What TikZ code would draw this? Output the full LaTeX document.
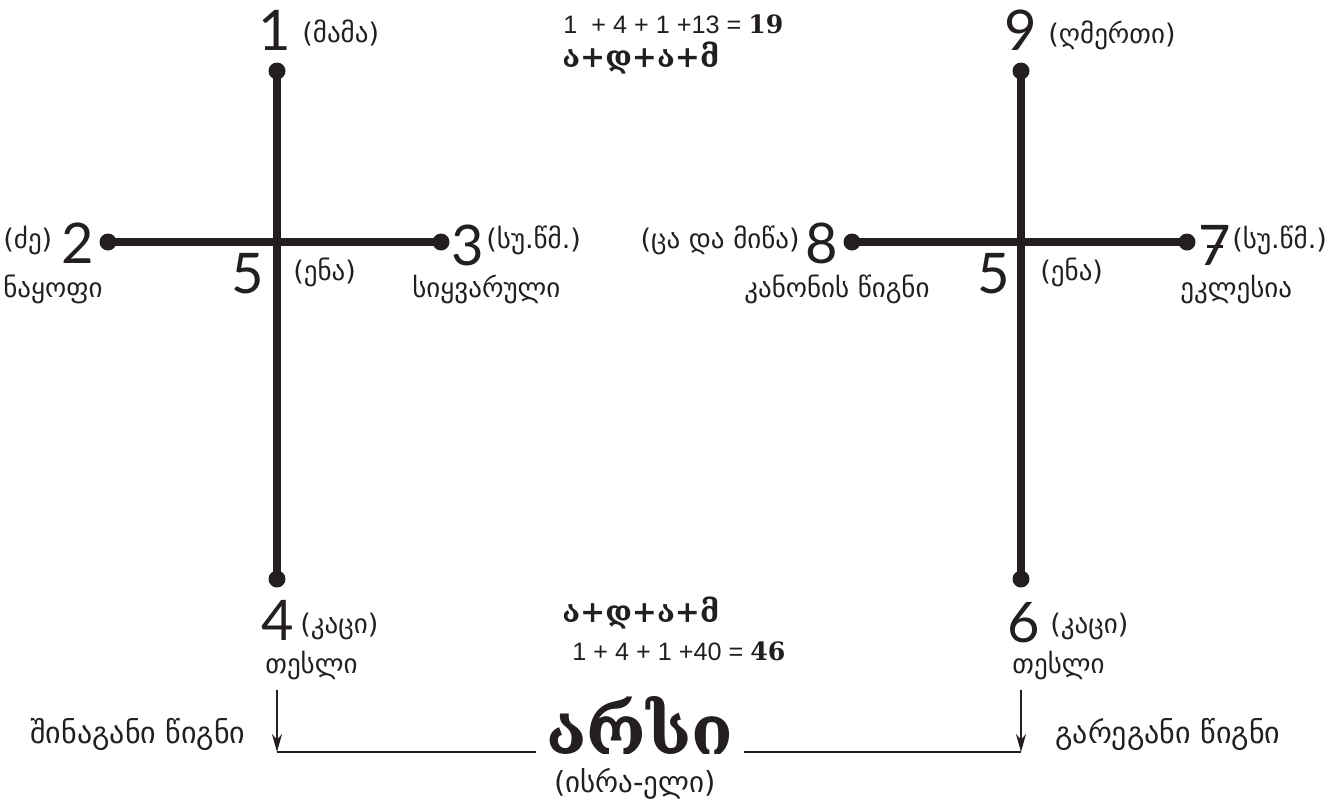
\documentclass[tikz,border=0pt]{standalone}
\usepackage{fontspec}
\setmainfont{DejaVu Sans}
\newfontfamily\numfont{Liberation Sans}
\newfontfamily\digfont{Lato}
\newfontfamily\geobold{DejaVu Serif}
\definecolor{ink}{RGB}{35,31,32}
\usetikzlibrary{arrows.meta,positioning}
\newcommand{\crossseven}{\ooalign{7\cr\hidewidth\rule[0.3em]{0.3em}{0.05em}\hidewidth\cr}}

\begin{document}
\begin{tikzpicture}[x=0.5pt,y=-0.5pt,ink,
  dot/.style={circle,fill=ink,inner sep=0pt,minimum size=8.5pt},
  bar/.style={line width=3.6pt,ink},
  big/.style={font=\digfont\fontsize{28}{28}\selectfont,inner sep=0pt,anchor=base},
  geo/.style={font=\fontsize{13.5}{16}\selectfont,inner sep=0pt,anchor=base west},
  sumline/.style={font=\numfont\fontsize{12.6}{15}\selectfont,inner sep=0pt,anchor=base west},
  adam/.style={font=\geobold\bfseries\fontsize{15}{18}\selectfont,inner sep=0pt,anchor=base west}]
  \useasboundingbox (0,0) rectangle (1332,805);
  % left cross
  \node[dot] (dot1) at (277,71) {};
  \node[dot] (dot4) at (277,579) {};
  \node[dot] (dot2) at (108,242) {};
  \node[dot] (dot3) at (441,242) {};
  \draw[bar] (dot1.center) -- (dot4.center);
  \draw[bar] (dot2.center) -- (dot3.center);
  % right cross
  \node[dot] (dot9) at (1021,71) {};
  \node[dot] (dot6) at (1021,579) {};
  \node[dot] (dot8) at (852,242) {};
  \node[dot] (dot7) at (1187,242) {};
  \draw[bar] (dot9.center) -- (dot6.center);
  \draw[bar] (dot8.center) -- (dot7.center);
  % numbers and names, left
  \node[big] (num1) at (274.5,50) {1};
  \node[geo] (mama) at (302,42) {(მამა)};
  \node[geo] (dze) at (3,248) {(ძე)};
  \node[big] (num2) at (77.5,263) {2};
  \node[geo] (nayofi) at (3,297) {ნაყოფი};
  \node[big] (num5a) at (248,293) {5};
  \node[geo] (enaa) at (293,280) {(ენა)};
  \node[big] (num3) at (467.5,265) {3};
  \node[geo] (suwma) at (486,248) {(სუ.წმ.)};
  \node[geo] (siyvaruli) at (412,297) {სიყვარული};
  \node[big] (num4) at (277.5,640) {4};
  \node[geo] (kacia) at (300,633) {(კაცი)};
  \node[geo] (teslia) at (265,673) {თესლი};
  % numbers and names, right
  \node[big] (num9) at (1021,50) {9};
  \node[geo] (ghmerti) at (1048,43) {(ღმერთი)};
  \node[geo,anchor=base east] (cada) at (800,248) {(ცა და მიწა)};
  \node[big] (num8) at (821.5,263) {8};
  \node[geo,anchor=base east] (kanoni) at (930,297) {კანონის წიგნი};
  \node[big] (num5b) at (994,293) {5};
  \node[geo] (enab) at (1040,280) {(ენა)};
  \node[big] (num7) at (1215,265) {\crossseven};
  \node[geo] (suwmb) at (1232,248) {(სუ.წმ.)};
  \node[geo] (eklesia) at (1180,297) {ეკლესია};
  \node[big] (num6) at (1023.5,642) {6};
  \node[geo] (kacib) at (1050,633) {(კაცი)};
  \node[geo] (teslib) at (1012,673) {თესლი};
  % sums
  \node[sumline] (sum19) at (563,33) {1\ \ + 4 + 1 +13 = {\geobold\bfseries 19}};
  \node[adam] (adama) at (562,67) {ა+დ+ა+მ};
  \node[adam] (adamb) at (562,622) {ა+დ+ა+მ};
  \node[sumline] (sum46) at (572,660) {1 + 4 + 1 +40 = {\geobold\bfseries 46}};
  % bottom line
  \node[font=\geobold\bfseries\fontsize{34}{34}\selectfont,inner sep=5pt] (arsi) at (640,725) {არსი};
  \node[font=\fontsize{14.5}{17}\selectfont,inner sep=0pt,anchor=base] (israeli) at (635,792) {(ისრა-ელი)};
  \node[geo,font=\fontsize{15}{18}\selectfont] (inner) at (30,743) {შინაგანი წიგნი};
  \node[geo,font=\fontsize{15}{18}\selectfont] (outer) at (1055,743) {გარეგანი წიგნი};
  \coordinate (top4) at (277,690);
  \coordinate (low4) at (277,752);
  \coordinate (top6) at (1021,690);
  \coordinate (low6) at (1021,752);
  \draw[-{Stealth[length=9pt,width=5pt]},line width=1pt] (top4) -- (low4);
  \draw[-{Stealth[length=9pt,width=5pt]},line width=1pt] (top6) -- (low6);
  \draw[line width=1.2pt] (low4) -- (low4 -| arsi.west);
  \draw[line width=1.2pt] (low6) -- (low6 -| arsi.east);
\end{tikzpicture}
\end{document}
